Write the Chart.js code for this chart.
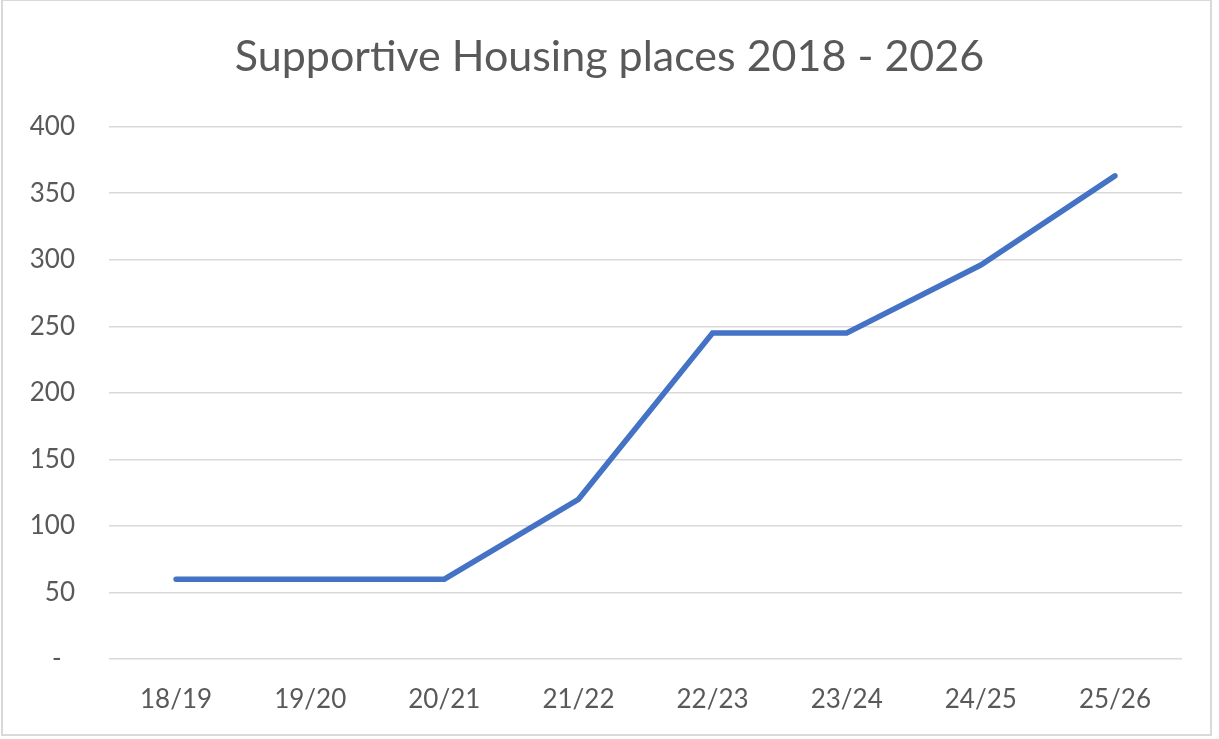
<!DOCTYPE html>
<html>
<head>
<meta charset="utf-8">
<script src="https://cdn.jsdelivr.net/npm/chart.js@4"></script>
<style>
  html, body { margin: 0; padding: 0; background: #fff; }
  #wrap { position: relative; width: 1219px; height: 739px; }
  #frame { position: absolute; left: 1px; top: -1px; width: 1211px; height: 737px; border: 2px solid #d9d9d9; box-sizing: border-box; pointer-events: none; }
</style>
</head>
<body>
<div id="wrap">
  <canvas id="places" width="1219" height="739"></canvas>
  <div id="frame"></div>
</div>
<script>
const years = ['18/19', '19/20', '20/21', '21/22', '22/23', '23/24', '24/25', '25/26'];
const places = [60, 60, 60, 120, 245, 245, 296, 363];
const yMin = 0;
const yMax = 400;
const yStep = 50;

const textColor = '#595959';
const gridColor = '#d9d9d9';

new Chart(document.getElementById('places'), {
    type: 'line',
    data: {
        labels: years,
        datasets: [{
            label: 'Supportive Housing places',
            data: places,
            borderColor: '#4472c4',
            borderWidth: 5.5,
            borderCapStyle: 'round',
            pointRadius: 0,
            tension: 0,
            fill: false
        }]
    },
    options: {
        responsive: false,
        animation: false,
        layout: { padding: 0 },
        plugins: {
            legend: { display: false },
            tooltip: { enabled: false },
            title: {
                display: true,
                text: 'Supportive Housing places 2018 - 2026',
                color: textColor,
                font: { family: 'Lato', size: 43, weight: 'normal' },
                padding: { top: 31, bottom: 44 }
            }
        },
        scales: {
            x: {
                offset: true,
                grid: { display: false },
                border: { display: false },
                ticks: {
                    color: textColor,
                    font: { family: 'Lato', size: 26 },
                    padding: 17,
                    maxRotation: 0
                },
                afterFit: function (scale) { scale.height = 80; }
            },
            y: {
                min: yMin,
                max: yMax,
                grid: { color: gridColor, lineWidth: 1.5, drawTicks: false },
                border: { display: false },
                ticks: {
                    stepSize: yStep,
                    color: textColor,
                    font: { family: 'Lato', size: 26 },
                    padding: 34,
                    callback: function (value) {
                        return value === 0 ? '-  ' : value;
                    }
                },
                afterFit: function (scale) { scale.width = 109; }
            },
            // empty right-hand axis: only reserves the right margin so the title stays centred
            yRight: {
                position: 'right',
                min: yMin,
                max: yMax,
                grid: { display: false },
                border: { display: false },
                ticks: { display: false },
                afterFit: function (scale) { scale.width = 37; }
            }
        }
    }
});
</script>
</body>
</html>
